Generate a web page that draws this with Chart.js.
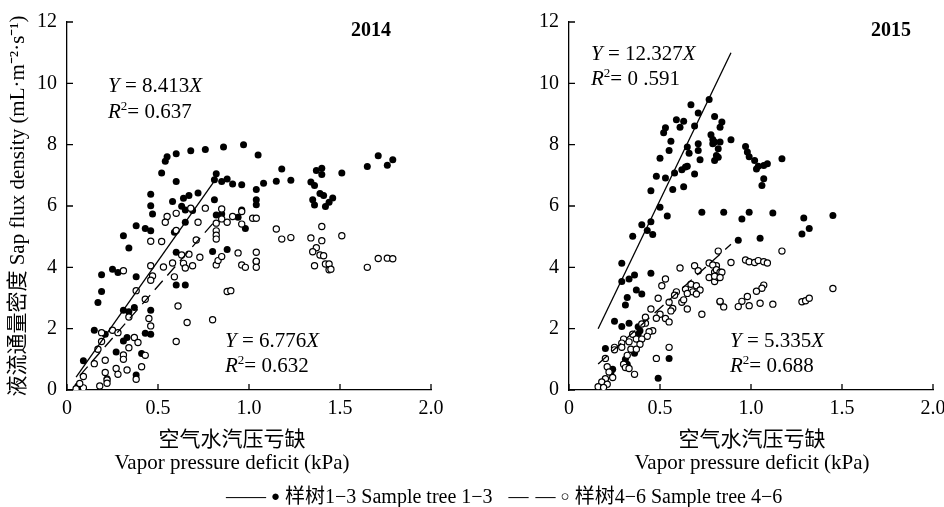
<!DOCTYPE html>
<html>
<head>
<meta charset="utf-8">
<script src="https://cdn.jsdelivr.net/npm/chart.js@4.4.1/dist/chart.umd.min.js"></script>
<style>
html, body { margin: 0; padding: 0; background: #fff; overflow: hidden; }
#wrap { position: relative; width: 944px; height: 507px; overflow: hidden; }
canvas { position: absolute; left: 0; top: 0; }
#legend { position: absolute; left: 226px; top: 480px; color: #000; white-space: nowrap;
  font: 20px 'Liberation Serif', 'Noto Sans CJK SC', serif; }
#legend .mk { font-size: 15px; position: relative; top: -2px; }
#legend .gap { display: inline-block; width: 16px; }
#legend .d2 { margin-left: 7px; }
</style>
</head>
<body>
<div id="wrap">
  <canvas id="c2014" width="960" height="507"></canvas>
  <canvas id="c2015" width="960" height="507"></canvas>
  <div id="legend">—— <span class="mk">●</span> 样树1−3 Sample tree 1−3<span class="gap"></span>—<span class="d2">—</span> <span class="mk">○</span> 样树4−6 Sample tree 4−6</div>
</div>
<script>
// valores: [VPD (kPa), densidade de fluxo]
const tree13_2014 = [
  [0.97,8.0],[1.05,7.66],[0.86,7.92],[0.76,7.84],[0.68,7.80],[0.60,7.70],[0.55,7.61],[0.54,7.46],
  [0.52,7.08],[0.60,6.80],[0.82,7.05],[0.81,6.86],[0.85,6.80],[0.88,6.88],[0.91,6.72],[0.96,6.69],
  [1.04,6.54],[0.46,6.38],[0.72,6.42],[0.67,6.34],[0.64,6.25],[0.58,6.15],[0.63,5.99],[0.46,6.01],
  [0.47,5.74],[0.65,5.87],[0.69,5.85],[0.81,6.20],[0.82,5.71],[0.85,5.74],[0.94,5.63],[0.96,5.87],
  [0.98,5.27],[1.04,6.20],[1.04,6.04],[0.38,5.36],[0.43,5.27],[0.46,5.19],[0.31,5.03],[0.59,5.14],
  [0.65,5.47],[0.34,4.63],[0.60,4.49],[0.80,4.52],[0.88,4.58],[0.25,3.94],[0.28,3.83],[0.19,3.76],
  [0.38,3.69],[0.60,3.42],[0.65,3.42],[0.19,3.21],[0.17,2.85],[0.31,2.60],[0.34,2.55],[0.37,2.69],
  [0.46,2.60],[0.15,1.95],[0.21,1.82],[0.31,1.60],[0.33,1.71],[0.43,1.85],[0.46,1.82],[0.09,0.95],
  [0.27,1.24],[0.41,1.19],[0.38,0.49],[0.22,0.37],[0.06,0.13],[1.18,7.21],[1.37,7.16],[1.40,7.23],
  [1.40,7.03],[1.51,7.08],[1.65,7.29],[1.71,7.64],[1.76,7.33],[1.79,7.51],[1.08,6.74],[1.15,6.81],
  [1.23,6.84],[1.34,6.78],[1.36,6.67],[1.39,6.41],[1.41,6.34],[1.35,6.20],[1.36,6.03],[1.46,6.26],
  [1.44,6.12],[1.42,5.98]
];
const tree46_2014 = [
  [0.55,5.66],[0.54,5.47],[0.60,5.76],[0.68,5.93],[0.76,5.93],[0.72,5.47],[0.82,5.44],[0.85,5.90],
  [0.85,5.58],[0.88,5.47],[0.91,5.66],[0.96,5.82],[0.96,5.41],[1.02,5.60],[1.04,5.60],[0.82,5.19],
  [0.82,5.05],[0.82,4.92],[0.71,4.89],[0.46,4.85],[0.52,4.84],[0.60,5.20],[0.46,4.05],[0.53,4.01],
  [0.58,4.14],[0.63,4.40],[0.67,4.43],[0.59,3.69],[0.64,4.13],[0.65,3.98],[0.69,4.05],[0.73,4.33],
  [0.82,4.08],[0.83,4.22],[0.85,4.35],[0.94,4.47],[0.96,4.08],[0.98,4.00],[1.04,4.18],[1.04,4.49],
  [0.47,3.72],[0.46,3.58],[0.31,3.89],[0.38,3.24],[0.43,2.96],[0.88,3.21],[0.90,3.24],[0.61,2.74],
  [0.34,2.38],[0.45,2.33],[0.46,2.09],[0.66,2.20],[0.80,2.29],[0.19,1.87],[0.25,1.95],[0.28,1.87],
  [0.19,1.58],[0.17,1.33],[0.15,0.86],[0.21,0.97],[0.31,1.14],[0.34,1.38],[0.37,1.71],[0.39,1.55],
  [0.43,1.13],[0.41,0.76],[0.60,1.58],[0.31,1.00],[0.27,0.70],[0.33,0.65],[0.28,0.51],[0.21,0.57],
  [0.38,0.35],[0.22,0.33],[0.18,0.13],[0.05,0.04],[0.09,0.07],[0.07,0.21],[0.09,0.44],[0.22,0.22],
  [1.15,5.25],[1.18,4.92],[1.23,4.97],[1.34,4.96],[1.40,5.33],[1.40,4.87],[1.51,5.03],[1.37,4.64],
  [1.35,4.51],[1.39,4.40],[1.41,4.38],[1.36,4.05],[1.42,4.11],[1.44,4.11],[1.44,3.92],[1.45,3.94],
  [1.04,4.20],[1.04,4.00],[1.65,4.00],[1.71,4.29],[1.76,4.30],[1.79,4.28]
];
const tree13_2015 = [
  [0.77,9.47],[0.67,9.30],[0.71,9.03],[0.80,8.92],[0.59,8.81],[0.63,8.76],[0.53,8.55],[0.52,8.39],
  [0.61,8.57],[0.69,8.61],[0.84,8.74],[0.83,8.57],[0.78,8.32],[0.79,8.17],[0.80,8.09],[0.83,8.09],
  [0.82,7.87],[0.79,8.03],[0.89,8.16],[0.56,8.11],[0.55,7.81],[0.65,7.92],[0.66,7.72],[0.71,8.03],
  [0.71,7.81],[0.50,7.56],[0.72,7.51],[0.81,7.65],[0.80,7.48],[0.82,7.59],[0.97,7.94],[0.98,7.76],
  [0.99,7.61],[1.02,7.48],[1.03,7.21],[1.04,7.30],[1.07,7.32],[1.09,7.38],[1.17,7.54],[1.07,6.89],
  [1.06,6.67],[0.58,7.08],[0.62,7.18],[0.64,7.27],[0.65,7.30],[0.48,6.97],[0.53,6.91],[0.69,7.04],
  [0.45,6.50],[0.57,6.54],[0.63,6.63],[0.50,5.96],[0.54,5.67],[0.73,5.80],[0.85,5.80],[0.99,5.80],
  [0.95,5.58],[1.12,5.77],[0.45,5.49],[0.40,5.39],[0.43,5.20],[0.46,5.07],[0.35,5.01],[1.29,5.61],
  [1.45,5.69],[1.28,5.09],[1.32,5.27],[0.93,4.88],[1.05,4.95],[0.29,4.13],[0.29,3.54],[0.33,3.62],
  [0.36,3.75],[0.45,3.81],[0.37,3.26],[0.40,3.13],[0.32,3.02],[0.31,2.77],[0.25,2.24],[0.29,2.07],
  [0.33,2.18],[0.38,2.06],[0.39,1.93],[0.38,1.82],[0.37,1.75],[0.20,1.35],[0.36,1.20],[0.31,1.00],
  [0.32,0.84],[0.55,1.03],[0.24,0.68],[0.23,0.57],[0.49,0.38]
];
const tree46_2015 = [
  [0.61,3.98],[0.69,4.05],[0.71,3.89],[0.77,4.14],[0.81,4.05],[0.81,3.89],[0.80,3.84],[0.77,3.67],
  [0.80,3.54],[0.82,3.67],[0.79,4.08],[0.81,3.92],[0.83,3.84],[0.84,3.84],[0.80,3.71],[0.83,3.67],
  [0.51,3.40],[0.53,3.62],[0.67,3.45],[0.64,3.29],[0.68,3.20],[0.70,3.40],[0.72,3.26],[0.70,3.13],
  [0.65,3.15],[0.59,3.20],[0.58,3.09],[0.49,2.99],[0.55,2.86],[0.57,2.66],[0.56,2.58],[0.62,2.86],
  [0.63,2.94],[0.65,2.64],[0.73,2.47],[0.83,2.88],[0.45,2.64],[0.50,2.47],[0.48,2.34],[0.53,2.33],
  [0.55,2.22],[0.42,2.37],[0.42,2.18],[0.46,1.93],[0.44,1.90],[0.43,1.75],[0.40,2.15],[0.35,1.82],
  [0.37,1.66],[0.40,1.66],[0.39,1.49],[0.30,1.66],[0.29,1.53],[0.33,1.57],[0.29,1.39],[0.34,1.33],
  [0.37,1.33],[0.25,1.39],[0.25,1.31],[0.20,1.03],[0.32,1.13],[0.30,0.84],[0.31,0.73],[0.33,0.70],
  [0.36,0.51],[0.21,0.76],[0.22,0.59],[0.24,0.41],[0.20,0.37],[0.18,0.26],[0.21,0.19],[0.16,0.11],
  [0.19,0.08],[0.55,1.39],[0.48,1.03],[0.82,4.53],[0.89,4.16],[0.97,4.24],[0.99,4.18],[1.02,4.16],
  [1.04,4.22],[1.07,4.18],[1.09,4.14],[1.17,4.53],[1.07,3.42],[1.06,3.32],[1.03,3.22],[0.98,3.05],
  [0.95,2.89],[0.93,2.72],[0.83,2.89],[0.85,2.71],[0.99,2.75],[1.05,2.83],[1.12,2.80],[1.28,2.88],
  [1.30,2.91],[1.32,2.99],[1.45,3.31]
];

// extremos das retas de regressão
const fit13_2014 = [[0.05,0.42],[0.82,6.90]];
const fit46_2014 = [[0.07,0.47],[0.81,5.49]];
const fit13_2015 = [[0.16,2.00],[0.89,11.0]];
const fit46_2015 = [[0.16,0.85],[0.89,4.75]];

const xTicks = [0, 0.5, 1.0, 1.5, 2.0];
const yTicks = [0, 2, 4, 6, 8, 10, 12];

const SERIF = "'Liberation Serif', 'Noto Sans CJK SC', serif";
const yTitle = "液流通量密度 Sap flux density (mL·m⁻²·s⁻¹)";
const xTitleCn = "空气水汽压亏缺";
const xTitleEn = "Vapor pressure deficit (kPa)";

const toXY = arr => arr.map(p => ({ x: p[0], y: p[1] }));

// texto com partes em itálico / sobrescrito
function drawRich(ctx, parts, x, y, size) {
    let cx = x;
    for (const p of parts) {
        const s = p.sup ? Math.round(size * 0.62) : size;
        ctx.font = (p.it ? "italic " : "") + (p.b ? "bold " : "") + s + "px " + SERIF;
        ctx.fillText(p.t, cx, p.sup ? y - size * 0.36 : y);
        cx += ctx.measureText(p.t).width;
    }
}
const eqY = k => [{ t: "Y", it: 1 }, { t: " = " + k }, { t: "X", it: 1 }];
const eqR = r => [{ t: "R", it: 1 }, { t: "2", sup: 1 }, { t: "= " + r }];

function makeChart(id, cfg) {
    const decor = {
        id: "decor" + id,
        afterDraw(chart) {
            const { ctx, chartArea: a, scales: { x, y } } = chart;
            ctx.save();
            // ticks para dentro
            ctx.strokeStyle = "#000";
            ctx.lineWidth = 1.3;
            ctx.beginPath();
            xTicks.forEach(v => {
                const px = x.getPixelForValue(v);
                ctx.moveTo(px, a.bottom); ctx.lineTo(px, a.bottom - 6);
            });
            yTicks.forEach(v => {
                const py = y.getPixelForValue(v);
                ctx.moveTo(a.left, py); ctx.lineTo(a.left + 6, py);
            });
            ctx.stroke();
            // títulos do eixo x
            ctx.fillStyle = "#000";
            ctx.textAlign = "center";
            ctx.textBaseline = "middle";
            ctx.font = "21px " + SERIF;
            ctx.fillText(xTitleCn, cfg.titleX, 440);
            ctx.fillText(xTitleEn, cfg.titleX, 463);
            // anotações
            ctx.textAlign = "left";
            ctx.textBaseline = "alphabetic";
            cfg.notes.forEach(n => drawRich(ctx, n.parts, n.x, n.y, n.size || 21));
            ctx.restore();
        }
    };

    return new Chart(document.getElementById(id), {
        type: "scatter",
        data: {
            datasets: [
                { type: "line", data: toXY(cfg.fitA), borderColor: "#000", borderWidth: 1.3, pointRadius: 0 },
                { type: "line", data: toXY(cfg.fitB), borderColor: "#000", borderWidth: 1.3, borderDash: [12, 7], pointRadius: 0 },
                { data: toXY(cfg.open), pointRadius: 3.1, backgroundColor: "#fff", borderColor: "#000", borderWidth: 1.2 },
                { data: toXY(cfg.filled), pointRadius: 3.5, backgroundColor: "#000", borderColor: "#000", borderWidth: 0 }
            ]
        },
        options: {
            responsive: false,
            animation: false,
            devicePixelRatio: 1,
            layout: { padding: { left: cfg.padL, right: cfg.padR, top: 22, bottom: 0 } },
            plugins: { legend: { display: false }, tooltip: { enabled: false } },
            scales: {
                x: {
                    type: "linear", min: 0, max: 2,
                    afterFit: s => { s.height = 117; },
                    grid: { display: false, drawTicks: false },
                    border: { color: "#000", width: 1.3 },
                    ticks: {
                        stepSize: 0.5, padding: 7, color: "#000",
                        font: { family: SERIF, size: 20 },
                        callback: v => v === 0 ? "0" : v.toFixed(1)
                    }
                },
                y: {
                    min: 0, max: 12,
                    afterFit: s => { s.width = 67; },
                    grid: { display: false, drawTicks: false },
                    border: { color: "#000", width: 1.3 },
                    ticks: { stepSize: 2, padding: 10, color: "#000", font: { family: SERIF, size: 20 } },
                    title: {
                        display: cfg.yTitle, text: yTitle, color: "#000",
                        font: { family: SERIF, size: 21 }, padding: { top: 6, bottom: 0 }
                    }
                }
            }
        },
        plugins: [decor]
    });
}

makeChart("c2014", {
    filled: tree13_2014, open: tree46_2014, fitA: fit13_2014, fitB: fit46_2014,
    padL: 0, padR: 529, yTitle: true, titleX: 232,
    notes: [
        { parts: [{ t: "2014", b: 1 }], x: 351, y: 36, size: 20 },
        { parts: eqY("8.413"), x: 108, y: 92 },
        { parts: eqR("0.637"), x: 108, y: 118 },
        { parts: eqY("6.776"), x: 225, y: 347 },
        { parts: eqR("0.632"), x: 225, y: 372 }
    ]
});

makeChart("c2015", {
    filled: tree13_2015, open: tree46_2015, fitA: fit13_2015, fitB: fit46_2015,
    padL: 502, padR: 27, yTitle: false, titleX: 752,
    notes: [
        { parts: [{ t: "2015", b: 1 }], x: 871, y: 36, size: 20 },
        { parts: eqY("12.327"), x: 591, y: 60 },
        { parts: eqR("0 .591"), x: 591, y: 85 },
        { parts: eqY("5.335"), x: 730, y: 347 },
        { parts: eqR("0.688"), x: 730, y: 372 }
    ]
});
</script>
</body>
</html>
